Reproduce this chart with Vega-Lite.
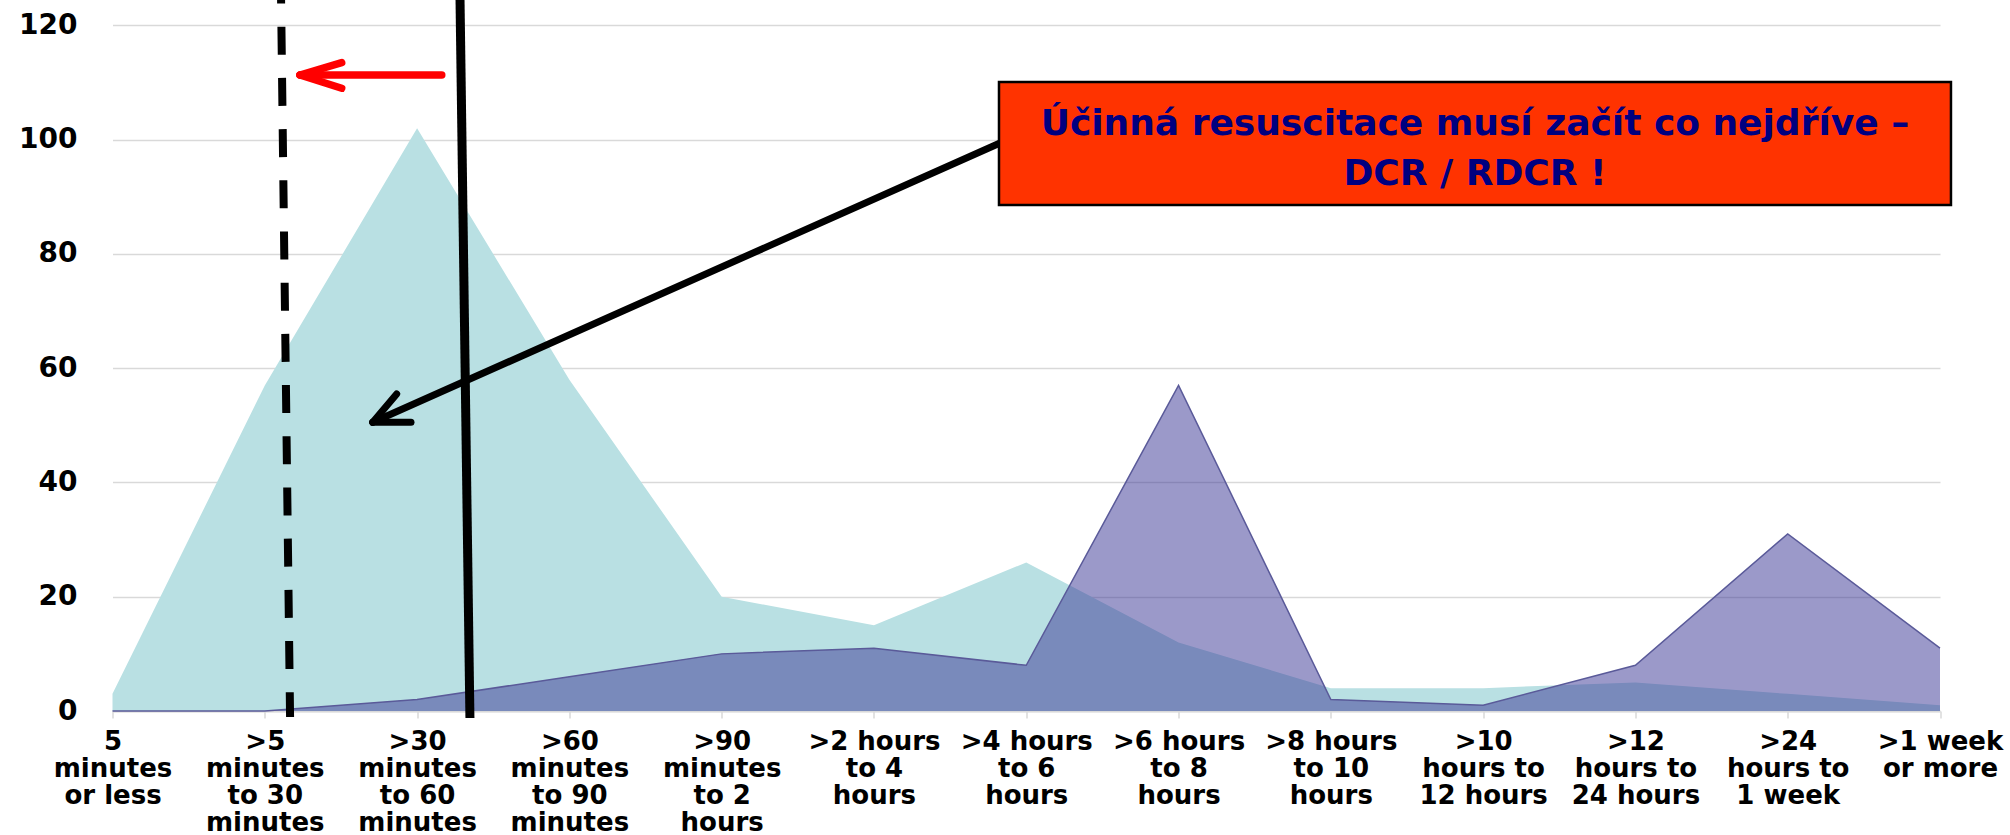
{
  "$schema": "https://vega.github.io/schema/vega-lite/v6.json",
  "width": 1827.5,
  "height": 711,
  "autosize": {"type": "none"},
  "padding": {"left": 112.5, "top": 0, "right": 70, "bottom": 124},
  "background": "white",
  "config": {"view": {"stroke": null}},
  "datasets": {
    "series": [
      {"period": "5|minutes|or less", "series1": 3, "series2": 0},
      {"period": ">5|minutes|to 30|minutes", "series1": 57, "series2": 0},
      {"period": ">30|minutes|to 60|minutes", "series1": 102, "series2": 2},
      {"period": ">60|minutes|to 90|minutes", "series1": 58, "series2": 6},
      {"period": ">90|minutes|to 2|hours", "series1": 20, "series2": 10},
      {"period": ">2 hours|to 4|hours", "series1": 15, "series2": 11},
      {"period": ">4 hours|to 6|hours", "series1": 26, "series2": 8},
      {"period": ">6 hours|to 8|hours", "series1": 12, "series2": 57},
      {"period": ">8 hours|to 10|hours", "series1": 4, "series2": 2},
      {"period": ">10|hours to|12 hours", "series1": 4, "series2": 1},
      {"period": ">12|hours to|24 hours", "series1": 5, "series2": 8},
      {"period": ">24|hours to|1 week", "series1": 3, "series2": 31},
      {"period": ">1 week|or more", "series1": 1, "series2": 11}
    ],
    "lines": [
      {"shape": "dashed", "x": 1.107, "y": 124.46, "x2": 1.166, "y2": -1.05},
      {"shape": "solid", "x": 2.282, "y": 124.46, "x2": 2.347, "y2": -1.23},
      {"shape": "red", "x": 2.162, "y": 111.33, "x2": 1.231, "y2": 111.33},
      {"shape": "red", "x": 1.231, "y": 111.33, "x2": 1.505, "y2": 113.49},
      {"shape": "red", "x": 1.231, "y": 111.33, "x2": 1.505, "y2": 109.01},
      {"shape": "black", "x": 5.828, "y": 99.43, "x2": 1.709, "y2": 50.54},
      {"shape": "black", "x": 1.709, "y": 50.54, "x2": 1.866, "y2": 55.49},
      {"shape": "black", "x": 1.709, "y": 50.54, "x2": 1.96, "y2": 50.54}
    ],
    "box": [
      {"x": 5.821, "x2": 12.072, "y": 110.11, "y2": 88.58}
    ],
    "boxtext": [
      {"x": 8.946, "y": 100.83, "label": "Účinná resuscitace musí začít co nejdříve –"},
      {"x": 8.946, "y": 92.08, "label": "DCR / RDCR !"}
    ]
  },
  "layer": [
    {
      "data": {"name": "series"},
      "mark": {"type": "area", "color": "#b9e0e3", "opacity": 1},
      "encoding": {
        "x": {
          "field": "period",
          "type": "ordinal",
          "sort": null,
          "title": null,
          "scale": {"type": "point", "padding": 0},
          "axis": {
            "labelExpr": "split(datum.value, '|')",
            "labelFont": "DejaVu Sans",
            "labelFontWeight": "bold",
            "labelFontSize": 26,
            "labelColor": "#000000",
            "labelAngle": 0,
            "labelBaseline": "top",
            "labelLineHeight": 27,
            "labelPadding": 10,
            "labelOverlap": false,
            "labelBound": false,
            "labelFlush": false,
            "ticks": true,
            "tickSize": 7,
            "tickColor": "#d9d9d9",
            "tickWidth": 1.5,
            "domain": true,
            "domainColor": "#d9d9d9",
            "domainWidth": 2,
            "grid": false,
            "title": null
          }
        },
        "y": {
          "field": "series1",
          "type": "quantitative",
          "title": null,
          "scale": {"domain": [0, 124.46], "nice": false, "zero": false},
          "axis": {
            "values": [0, 20, 40, 60, 80, 100, 120],
            "labelFont": "DejaVu Sans",
            "labelFontWeight": "bold",
            "labelFontSize": 28,
            "labelColor": "#000000",
            "labelPadding": 35.5,
            "ticks": false,
            "domain": false,
            "grid": true,
            "gridColor": "#d9d9d9",
            "gridWidth": 1.5,
            "title": null
          }
        }
      }
    },
    {
      "data": {"name": "series"},
      "mark": {"type": "area", "color": "#3a3796", "opacity": 0.51},
      "encoding": {
        "x": {"field": "period", "type": "ordinal", "sort": null, "title": null, "scale": {"type": "point", "padding": 0}, "axis": null},
        "y": {"field": "series2", "type": "quantitative", "title": null}
      }
    },
    {
      "data": {"name": "series"},
      "mark": {"type": "line", "color": "#5a5a99", "strokeWidth": 1.5},
      "encoding": {
        "x": {"field": "period", "type": "ordinal", "sort": null, "title": null, "scale": {"type": "point", "padding": 0}, "axis": null},
        "y": {"field": "series2", "type": "quantitative", "title": null}
      }
    },
    {
      "data": {"name": "lines"},
      "transform": [{"filter": "datum.shape == 'dashed'"}],
      "mark": {"type": "rule", "color": "#000000", "strokeWidth": 8, "strokeDash": [28, 23.2], "strokeDashOffset": 24.5},
      "encoding": {
        "x": {"field": "x", "type": "quantitative", "title": null, "scale": {"domain": [0, 12], "nice": false, "zero": false}, "axis": null},
        "x2": {"field": "x2"},
        "y": {"field": "y", "type": "quantitative", "title": null},
        "y2": {"field": "y2"}
      }
    },
    {
      "data": {"name": "lines"},
      "transform": [{"filter": "datum.shape == 'solid'"}],
      "mark": {"type": "rule", "color": "#000000", "strokeWidth": 9},
      "encoding": {
        "x": {"field": "x", "type": "quantitative", "title": null, "scale": {"domain": [0, 12], "nice": false, "zero": false}, "axis": null},
        "x2": {"field": "x2"},
        "y": {"field": "y", "type": "quantitative", "title": null},
        "y2": {"field": "y2"}
      }
    },
    {
      "data": {"name": "lines"},
      "transform": [{"filter": "datum.shape == 'red'"}],
      "mark": {"type": "rule", "color": "#ff0000", "strokeWidth": 7.5, "strokeCap": "round"},
      "encoding": {
        "x": {"field": "x", "type": "quantitative", "title": null, "scale": {"domain": [0, 12], "nice": false, "zero": false}, "axis": null},
        "x2": {"field": "x2"},
        "y": {"field": "y", "type": "quantitative", "title": null},
        "y2": {"field": "y2"}
      }
    },
    {
      "data": {"name": "lines"},
      "transform": [{"filter": "datum.shape == 'black'"}],
      "mark": {"type": "rule", "color": "#000000", "strokeWidth": 7, "strokeCap": "round"},
      "encoding": {
        "x": {"field": "x", "type": "quantitative", "title": null, "scale": {"domain": [0, 12], "nice": false, "zero": false}, "axis": null},
        "x2": {"field": "x2"},
        "y": {"field": "y", "type": "quantitative", "title": null},
        "y2": {"field": "y2"}
      }
    },
    {
      "data": {"name": "box"},
      "mark": {"type": "rect", "color": "#ff3300", "stroke": "#000000", "strokeWidth": 2.5, "opacity": 1},
      "encoding": {
        "x": {"field": "x", "type": "quantitative", "title": null, "scale": {"domain": [0, 12], "nice": false, "zero": false}, "axis": null},
        "x2": {"field": "x2"},
        "y": {"field": "y", "type": "quantitative", "title": null},
        "y2": {"field": "y2"}
      }
    },
    {
      "data": {"name": "boxtext"},
      "mark": {"type": "text", "font": "DejaVu Sans", "fontWeight": "bold", "fontSize": 36, "color": "#000080", "align": "center", "baseline": "alphabetic"},
      "encoding": {
        "x": {"field": "x", "type": "quantitative", "title": null, "scale": {"domain": [0, 12], "nice": false, "zero": false}, "axis": null},
        "y": {"field": "y", "type": "quantitative", "title": null},
        "text": {"field": "label"}
      }
    }
  ],
  "resolve": {"scale": {"x": "independent"}}
}
